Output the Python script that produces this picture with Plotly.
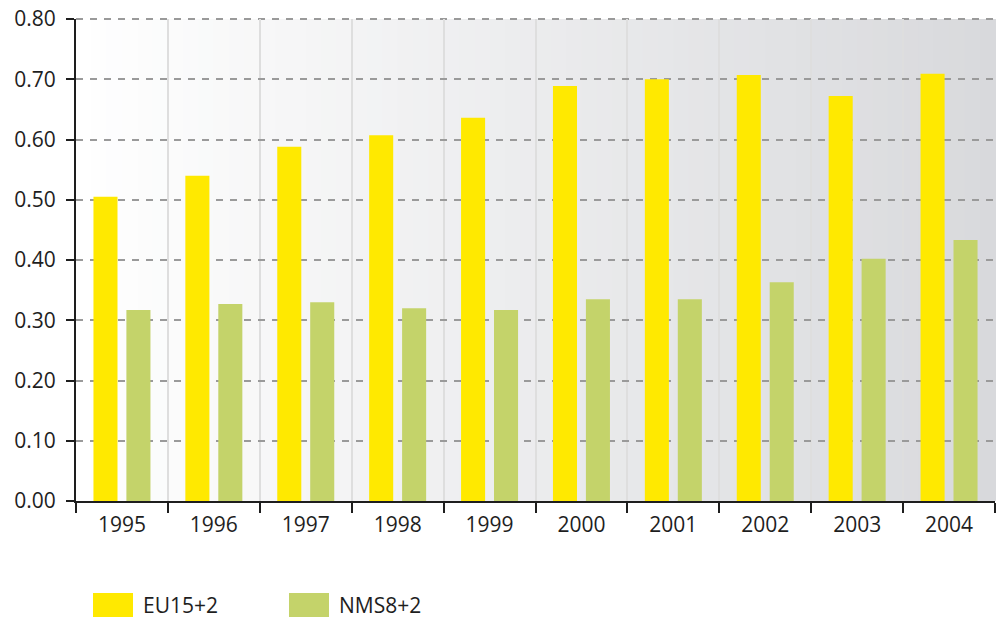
import plotly.graph_objects as go

years = ["1995", "1996", "1997", "1998", "1999", "2000", "2001", "2002", "2003", "2004"]
eu15 = [0.505, 0.540, 0.588, 0.607, 0.636, 0.689, 0.700, 0.707, 0.672, 0.709]
nms8 = [0.317, 0.327, 0.330, 0.320, 0.317, 0.335, 0.335, 0.363, 0.402, 0.433]
series_names = ["EU15+2", "NMS8+2"]
colors = ["#FFE900", "#C4D36A"]
yticks = [0.0, 0.1, 0.2, 0.3, 0.4, 0.5, 0.6, 0.7, 0.8]

FONT = "Open Sans"
FS = 21
TXT = "#1E1E1E"
GRID = "#9A9A9A"

fig = go.Figure()
for name, vals, col in zip(series_names, [eu15, nms8], colors):
    fig.add_trace(go.Bar(x=years, y=vals, name=name, marker=dict(color=col, line=dict(width=0)),
                         showlegend=False))

# horizontal gradient background (white -> light gray)
shapes = []
n = 60
c0 = (255, 255, 255)
c1 = (216, 217, 220)
for i in range(n):
    t = (i + 0.5) / n
    c = tuple(int(round(a + (b - a) * t)) for a, b in zip(c0, c1))
    shapes.append(dict(type="rect", xref="x domain", yref="y domain",
                       x0=i / n, x1=(i + 1) / n + 0.002, y0=0, y1=1,
                       fillcolor="rgb(%d,%d,%d)" % c, line=dict(width=0), layer="below"))

# dashed gridline at the top edge of the plot (plotly omits it at the range edge)
shapes.append(dict(type="line", xref="x domain", yref="y domain", x0=0, x1=1, y0=1, y1=1,
                   line=dict(color=GRID, width=2, dash="7px,7px"), layer="below"))

# manual legend swatches (pixel layout: plot area x 76..995, y 19..501)
PW, PH = 919, 482
leg_x = [93, 289]
for (x0, name, col) in zip(leg_x, series_names, colors):
    shapes.append(dict(type="rect", xref="paper", yref="paper",
                       x0=(x0 - 76) / PW, x1=(x0 + 40 - 76) / PW,
                       y0=-(593 - 501) / PH, y1=-(617 - 501) / PH,
                       fillcolor=col, line=dict(width=0), layer="above"))
annotations = []
for (x0, name) in zip(leg_x, series_names):
    annotations.append(dict(xref="paper", yref="paper", x=(x0 + 48 - 76) / PW,
                            y=-(605 - 501) / PH, text=name, showarrow=False,
                            xanchor="left", yanchor="middle",
                            font=dict(family=FONT, size=FS, color=TXT)))

fig.update_layout(
    width=996, height=618,
    margin=dict(l=76, r=1, t=19, b=117),
    paper_bgcolor="white",
    plot_bgcolor="rgba(0,0,0,0)",
    barmode="group",
    bargap=0.283,
    bargroupgap=0.27,
    shapes=shapes,
    annotations=annotations,
    font=dict(family=FONT, size=FS, color=TXT),
)
fig.update_xaxes(
    type="category",
    tickson="boundaries",
    ticks="outside", ticklen=10, tickwidth=2, tickcolor=TXT,
    showline=True, linecolor=TXT, linewidth=2,
    showgrid=True, gridcolor="#DEDEDE", gridwidth=1.5,
    tickfont=dict(family=FONT, size=FS, color=TXT),
    ticklabelstandoff=4,
)
fig.update_yaxes(
    range=[0, 0.8],
    tickvals=yticks, tickformat=".2f",
    ticks="outside", ticklen=8, tickwidth=2, tickcolor=TXT,
    showline=True, linecolor=TXT, linewidth=2,
    showgrid=True, gridcolor=GRID, gridwidth=2, griddash="7px,7px",
    zeroline=False,
    tickfont=dict(family=FONT, size=FS, color=TXT),
    ticklabelstandoff=6,
)
fig.write_html("out.html", config={"displayModeBar": False},
               post_script="document.body.style.margin='0';document.body.style.overflow='hidden';")
